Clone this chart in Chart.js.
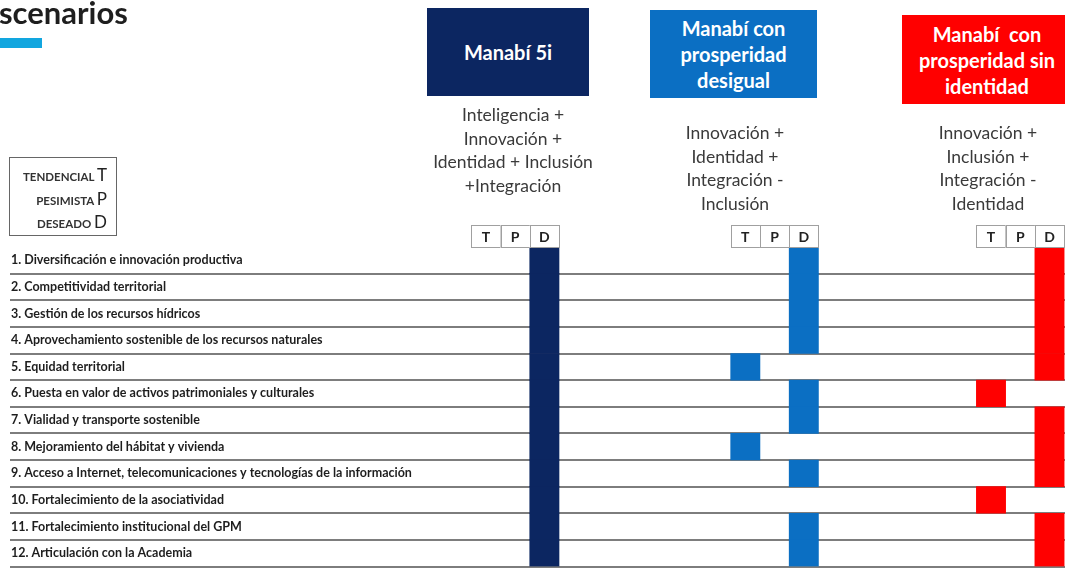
<!DOCTYPE html>
<html>
<head>
<meta charset="utf-8">
<script src="https://cdn.jsdelivr.net/npm/chart.js@4"></script>
<style>
    html, body { margin: 0; padding: 0; background: #fff; overflow: hidden; width: 1065px; height: 571px; }
    #wrap { position: relative; width: 1065px; height: 571px; }
    #grid-chart { position: absolute; left: 0; top: 0; }
    .abs { position: absolute; }
    .titulo { left: -1px; top: -7px; font: bold 31px Lato, sans-serif; color: #1e1e1e; }
    .raya { left: 0; top: 38px; width: 42px; height: 10px; background: #12a6df; }
    .caja { display: flex; align-items: center; justify-content: center; text-align: center;
            color: #fff; font: bold 20px Lato, sans-serif; line-height: 26px; white-space: nowrap; }
    .desc { text-align: center; font: 17.5px Lato, sans-serif; color: #3a3a3a; line-height: 23.5px; white-space: nowrap; }
    .leyenda { left: 9px; top: 157px; width: 108px; height: 79px; border: 1px solid #666;
               text-align: right; font: bold 11.5px Lato, sans-serif; color: #333; line-height: 21.5px; padding: 6px 9px 0 0; box-sizing: border-box; }
    .leyenda b { font-size: 17px; font-weight: normal; color: #222; }
</style>
</head>
<body>
<div id="wrap">
    <canvas id="grid-chart" width="1065" height="575"></canvas>

    <div class="abs titulo">scenarios</div>
    <div class="abs raya"></div>

    <div class="abs caja" style="left:427px; top:8px; width:162px; height:88px; background:#0c2661;">Manabí 5i</div>
    <div class="abs caja" style="left:650px; top:10px; width:167px; height:88px; background:#0b6fc3;">Manabí con<br>prosperidad<br>desigual</div>
    <div class="abs caja" style="left:902px; top:15px; width:170px; height:89px; background:#ff0000;">Manabí&nbsp; con<br>prosperidad sin<br>identidad</div>

    <div class="abs desc" style="left:413px; top:103px; width:200px;">Inteligencia +<br>Innovación +<br>Identidad + Inclusión<br>+Integración</div>
    <div class="abs desc" style="left:635px; top:121px; width:200px;">Innovación +<br>Identidad +<br>Integración -<br>Inclusión</div>
    <div class="abs desc" style="left:888px; top:121px; width:200px;">Innovación +<br>Inclusión +<br>Integración -<br>Identidad</div>

    <div class="abs leyenda">TENDENCIAL <b>T</b><br>PESIMISTA <b>P</b><br>DESEADO <b>D</b></div>
</div>

<script>
// Rows of the grid (strategic lines)
const filas = [
    '1. Diversificación e innovación productiva',
    '2. Competitividad territorial',
    '3. Gestión de los recursos hídricos',
    '4. Aprovechamiento sostenible de los recursos naturales',
    '5. Equidad territorial',
    '6. Puesta en valor de activos patrimoniales y culturales',
    '7. Vialidad y transporte sostenible',
    '8. Mejoramiento del hábitat y vivienda',
    '9. Acceso a Internet, telecomunicaciones y tecnologías de la información',
    '10. Fortalecimiento de la asociatividad',
    '11. Fortalecimiento institucional del GPM',
    '12. Articulación con la Academia'
];

// Scenario columns T / P / D
const niveles = ['T', 'P', 'D'];

// Which column is marked per row, for each scenario (null = no mark)
const manabi5i     = ['D', 'D', 'D', 'D', 'D', 'D', 'D', 'D', 'D', 'D', 'D', 'D'];
const desigual     = ['D', 'D', 'D', 'D', 'T', 'D', 'D', 'T', 'D', null, 'D', 'D'];
const sinIdentidad = ['D', 'D', 'D', 'D', 'D', 'T', 'D', 'D', 'D', 'T', 'D', 'D'];

// Layout: where each scenario's T column starts on the x scale (in column units)
const inicioEscenario = [15.77, 24.64, 33.04];
const coloresEscenario = ['#0c2661', '#0b6fc3', '#ff0000'];

function celdas(serie, s) {
    return serie.map(n => {
        if (n === null) return null;
        const x0 = inicioEscenario[s] + niveles.indexOf(n);
        return [x0, x0 + 1];
    });
}

// Draws the little T | P | D header boxes above each scenario, using the x scale
const cabeceraTPD = {
    id: 'cabeceraTPD',
    afterDraw(chart) {
        const ctx = chart.ctx;
        const x = chart.scales.x;
        ctx.save();
        ctx.font = 'bold 14px Lato, sans-serif';
        ctx.textAlign = 'center';
        ctx.textBaseline = 'middle';
        inicioEscenario.forEach(inicio => {
            niveles.forEach((n, k) => {
                const a = x.getPixelForValue(inicio + k);
                const b = x.getPixelForValue(inicio + k + 1);
                ctx.fillStyle = '#fff';
                ctx.fillRect(a, 225, b - a, 23);
                ctx.strokeStyle = '#a0a0a0';
                ctx.lineWidth = 1;
                ctx.strokeRect(Math.round(a) + 0.5, 225.5, Math.round(b - a), 22);
                ctx.fillStyle = '#222';
                ctx.fillText(n, (a + b) / 2, 237);
            });
        });
        ctx.restore();
    }
};

const gridChartElement = document.getElementById('grid-chart');

let gridChart = new Chart(gridChartElement, {
    type: 'bar',
    data: {
        labels: filas,
        datasets: [
            { label: 'Manabí 5i', data: celdas(manabi5i, 0), backgroundColor: coloresEscenario[0] },
            { label: 'Manabí con prosperidad desigual', data: celdas(desigual, 1), backgroundColor: coloresEscenario[1] },
            { label: 'Manabí con prosperidad sin identidad', data: celdas(sinIdentidad, 2), backgroundColor: coloresEscenario[2] }
        ]
    },
    options: {
        indexAxis: 'y',
        responsive: false,
        animation: false,
        grouped: false,
        barPercentage: 1,
        categoryPercentage: 1,
        borderWidth: 0,
        layout: {
            padding: { top: 247, left: 8, right: 0, bottom: 0 }
        },
        scales: {
            x: {
                type: 'linear',
                display: false,
                min: 0,
                max: 36.07
            },
            y: {
                grid: {
                    offset: true,
                    drawTicks: false,
                    lineWidth: 2,
                    color: c => c.index === 0 ? 'rgba(0,0,0,0)' : '#7d7d7d'
                },
                border: { display: false },
                ticks: {
                    mirror: true,
                    padding: 1,
                    autoSkip: false,
                    color: '#1e1e1e',
                    font: { family: 'Lato, sans-serif', size: 12.5, weight: 'bold' }
                }
            }
        },
        plugins: {
            legend: { display: false },
            tooltip: { enabled: false }
        }
    },
    plugins: [cabeceraTPD]
});
</script>
</body>
</html>
